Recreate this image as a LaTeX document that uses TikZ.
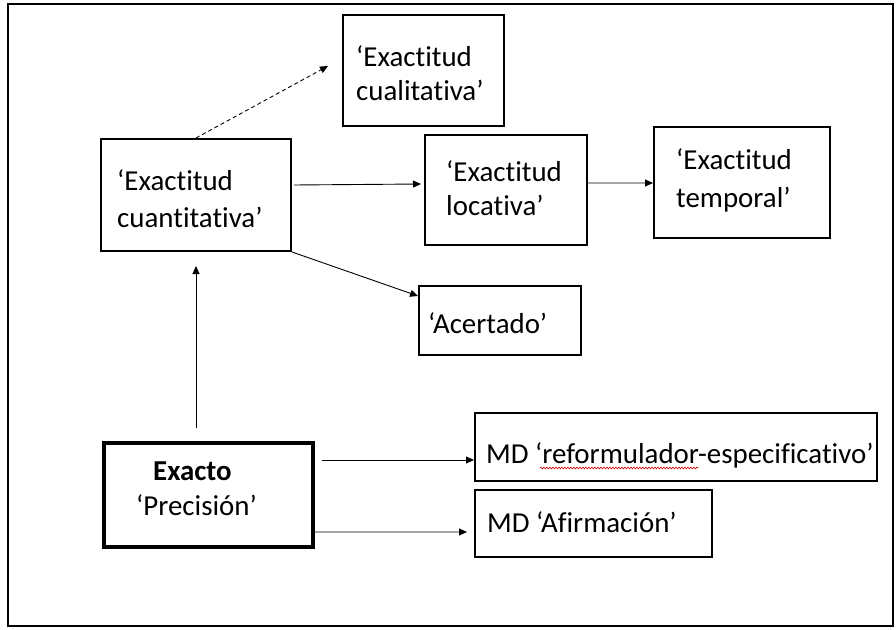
\documentclass[tikz,border=0pt]{standalone}
\usepackage{fontspec}
\setmainfont{Carlito}[Ligatures=NoCommon]
\usetikzlibrary{arrows.meta,decorations.pathmorphing}

\tikzset{
  box/.style={draw, line width=2bp, inner sep=0pt, rectangle},
  boldbox/.style={draw, line width=3.5bp, inner sep=0pt, rectangle},
  txt/.style={anchor=base west, inner sep=0pt, font=\fontsize{29}{34}\selectfont},
  arr/.style={line width=0.9bp, -{Triangle[length=8bp,width=7bp]}},
  dasharr/.style={arr, dash pattern=on 4bp off 3bp},
}

\begin{document}
\begin{tikzpicture}[x=1bp, y=-1bp]
  \useasboundingbox (0,0) rectangle (896,630);
  % outer frame
  \draw[line width=2bp] (8,4) rectangle (893,626);

  % boxes
  \node[box, minimum width=161bp, minimum height=111bp] (cual) at (423.5,70.5) {};
  \node[box, minimum width=190bp, minimum height=112bp] (cuant) at (196,195) {};
  \node[box, minimum width=162bp, minimum height=110bp] (loc) at (506,190) {};
  \node[box, minimum width=176bp, minimum height=111bp] (temp) at (742,182.5) {};
  \node[box, minimum width=162bp, minimum height=69bp] (acer) at (500,320.5) {};
  \node[boldbox, minimum width=209bp, minimum height=104bp] (exacto) at (208.5,495) {};
  \node[box, minimum width=402bp, minimum height=68bp] (mdref) at (676,447) {};
  \node[box, minimum width=237bp, minimum height=67bp] (mdaf) at (593.5,523.5) {};

  % texts
  \node[txt] (cualA) at (356,67) {‘Exactitud};
  \node[txt] (cualB) at (356,101) {cualitativa’};
  \node[txt] (cuantA) at (117,191) {‘Exactitud};
  \node[txt] (cuantB) at (117,228) {cuantitativa’};
  \node[txt] (locA) at (446,182) {‘Exactitud};
  \node[txt] (locB) at (446,216) {locativa’};
  \node[txt] (tempA) at (676,170) {‘Exactitud};
  \node[txt] (tempB) at (676,208) {temporal’};
  \node[txt] (acerT) at (428,333) {‘Acertado’};
  \node[txt, font=\fontsize{29}{34}\bfseries] (exactoA) at (153,480) {Exacto};
  \node[txt] (exactoB) at (136,515) {‘Precisión’};
  \node[txt] (mdrefT) at (486,463) {MD ‘reformulador-especificativo’};
  \node[txt] (mdafT) at (487,532) {MD ‘Afirmación’};

  % spell-check squiggle under "reformulador"
  \draw[red!80!black, line width=0.6bp,
        decorate, decoration={snake, amplitude=0.9bp, segment length=3bp}]
    (540,468) -- (698,468);

  % connectors
  \coordinate (dashend) at (328,66);
  \draw[dasharr] (cuant.north) -- (dashend);
  \draw[arr] ([shift={(2,-10)}]cuant.east) -- ([shift={(-3,-6)}]loc.west);
  \draw[arr] ([shift={(0,-7)}]loc.east) -- ([shift={(0,0.5)}]temp.west);
  \draw[arr] (cuant.south east) -- ([shift={(0,-24.5)}]acer.west);
  \draw[arr] ([shift={(-12.5,-13)}]exacto.north) -- ([shift={(0,14)}]cuant.south);
  \draw[arr] ([shift={(7,-35)}]exacto.east) -- ([shift={(0,13)}]mdref.west);
  \draw[arr] ([shift={(0,37)}]exacto.east) -- ([shift={(-7,8.5)}]mdaf.west);
\end{tikzpicture}
\end{document}
